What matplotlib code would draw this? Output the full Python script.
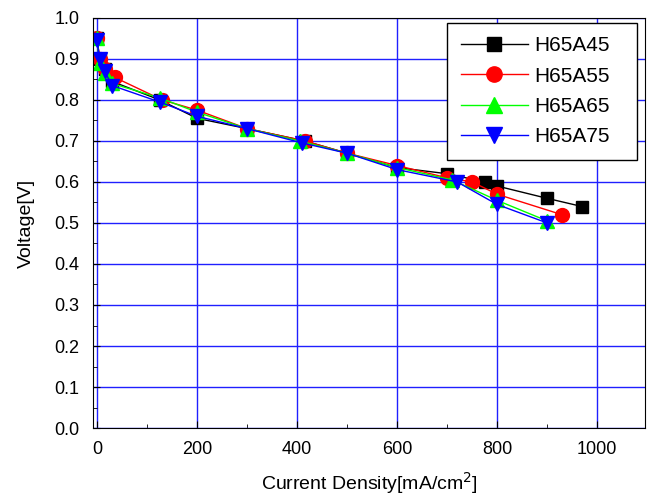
import matplotlib
matplotlib.use("Agg")
import matplotlib.pyplot as plt
from matplotlib.ticker import MultipleLocator, FormatStrFormatter

plt.rcParams['font.family'] = ['Liberation Sans', 'DejaVu Sans']

# current density [mA/cm2] and voltage [V] per sample
x45 = [0, 5, 15, 30, 125, 200, 300, 415, 500, 600, 700, 775, 800, 900, 970]
v45 = [0.95, 0.90, 0.875, 0.845, 0.80, 0.755, 0.73, 0.70, 0.67, 0.635, 0.62, 0.60, 0.59, 0.56, 0.54]
x55 = [0, 5, 15, 35, 130, 200, 300, 415, 500, 600, 700, 750, 800, 930]
v55 = [0.95, 0.90, 0.875, 0.855, 0.80, 0.775, 0.73, 0.70, 0.67, 0.64, 0.61, 0.60, 0.57, 0.52]
x65 = [0, 5, 15, 30, 125, 200, 300, 405, 500, 600, 710, 800, 900]
v65 = [0.95, 0.89, 0.865, 0.84, 0.805, 0.77, 0.73, 0.70, 0.67, 0.635, 0.605, 0.555, 0.505]
x75 = [0, 5, 15, 30, 125, 200, 300, 410, 500, 600, 720, 800, 900]
v75 = [0.945, 0.90, 0.87, 0.835, 0.795, 0.76, 0.73, 0.695, 0.67, 0.63, 0.60, 0.545, 0.50]

fig = plt.figure(figsize=(6.51, 4.96), dpi=100)
ax = fig.add_axes([0.143, 0.137, 0.848, 0.827])

ax.grid(True, color='#2020ff', linewidth=1.0)
ax.set_axisbelow(True)

ax.plot(x45, v45, color='black', marker='s', markersize=9, linewidth=1, label='H65A45')
ax.plot(x55, v55, color='red', marker='o', markersize=10, linewidth=1, label='H65A55')
ax.plot(x65, v65, color='#00ff00', marker='^', markersize=10, linewidth=1, label='H65A65')
ax.plot(x75, v75, color='blue', marker='v', markersize=10, linewidth=1, label='H65A75')

ax.set_xlim(-8, 1096)
ax.set_ylim(0, 1.0)
ax.xaxis.set_major_locator(MultipleLocator(200))
ax.xaxis.set_minor_locator(MultipleLocator(100))
ax.yaxis.set_major_locator(MultipleLocator(0.1))
ax.yaxis.set_minor_locator(MultipleLocator(0.05))
ax.yaxis.set_major_formatter(FormatStrFormatter('%.1f'))
ax.tick_params(which='both', direction='in', labelsize=13)
ax.tick_params(which='major', length=5)
ax.tick_params(which='minor', length=3)
ax.tick_params(axis='x', pad=9)
ax.tick_params(axis='y', pad=10)

ax.set_xlabel('Current Density[mA/cm$^2$]', fontsize=14, labelpad=9)
ax.set_ylabel('Voltage[V]', fontsize=14, labelpad=14)

leg = ax.legend(loc='upper right', fontsize=15, handlelength=3.2, fancybox=False,
                framealpha=1, edgecolor='black', borderpad=0.65, labelspacing=0.55,
                handletextpad=0.3, markerscale=1.1, mode='expand',
                bbox_to_anchor=(0.623, 0.5, 0.382, 0.514))
leg.get_frame().set_linewidth(1)

fig.savefig('out.png', dpi=100)
